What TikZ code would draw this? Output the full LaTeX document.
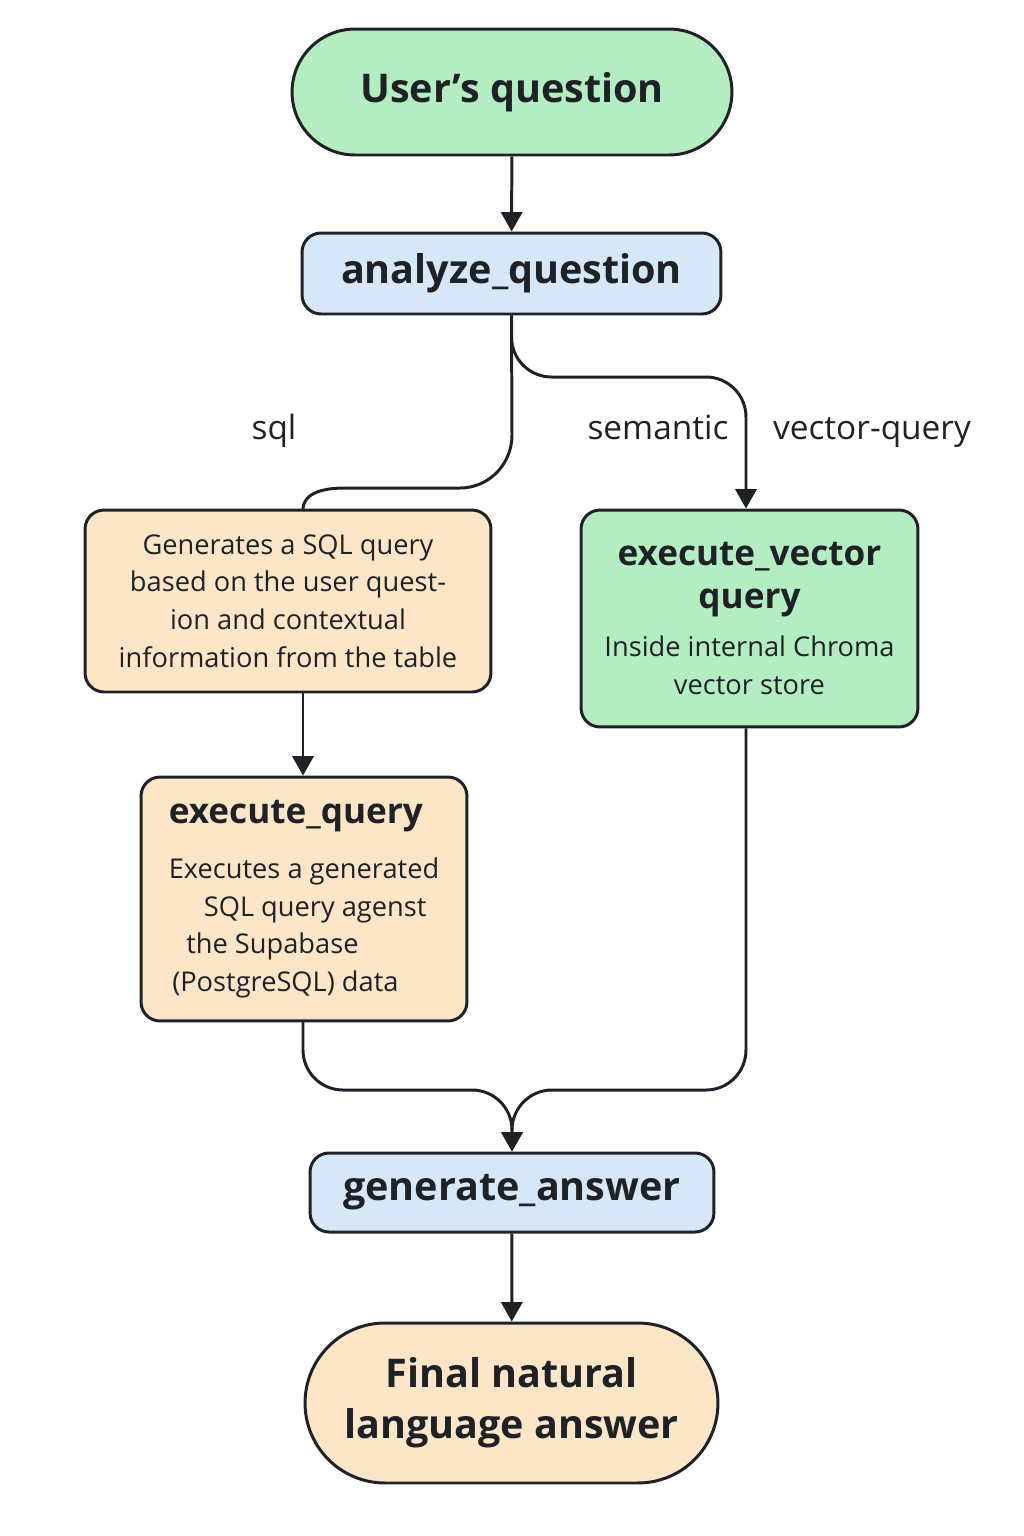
\documentclass[tikz,border=0pt]{standalone}
\usepackage{fontspec}
\setmainfont{Open Sans}
\usetikzlibrary{shapes.misc,arrows.meta,positioning}

\definecolor{mint}{HTML}{B5EDC3}
\definecolor{skyblue}{HTML}{D6E8F8}
\definecolor{peach}{HTML}{FDE6C8}
\definecolor{ink}{HTML}{1E2226}

\newcommand{\boxtitle}[1]{{\fontsize{20}{26}\selectfont\bfseries #1}}

\tikzset{
  box/.style={shape=rectangle, draw=ink, line width=1.7pt, rounded corners=0.38cm, inner sep=0pt},
  pill/.style={shape=rounded rectangle, draw=ink, line width=1.7pt, inner sep=0pt},
  flow/.style={draw=ink, line width=1.7pt, rounded corners=0.8cm},
  tip/.style={-{Triangle[width=12pt,length=11pt]}},
  bigtxt/.style={font=\fontsize{22.5}{29}\selectfont\bfseries, text=ink, align=center},
  smalltxt/.style={font=\fontsize{15.5}{21.4}\selectfont, text=ink},
  lbl/.style={font=\fontsize{19}{22}\selectfont, text=ink, anchor=base}
}

\begin{document}
\begin{tikzpicture}[x=0.02cm,y=-0.02cm]
\useasboundingbox (0,0) rectangle (1024,1536);

%start and analysis
\node [pill, bigtxt, fill=mint, minimum width=8.8cm, minimum height=2.52cm] at (512,92) (user) {User’s question};
\node [box, bigtxt, fill=skyblue, minimum width=8.38cm, minimum height=1.62cm] at (511.5,273.5) (an) {analyze\_question};

%sql branch
\node [box, smalltxt, align=center, fill=peach, minimum width=8.12cm, minimum height=3.64cm] at (288,601) (sq) {Generates a SQL query\\based on the user quest-\\ion and contextual\\information from the table};
\node [box, smalltxt, align=left, fill=peach, minimum width=6.52cm, minimum height=4.88cm] at (304,899) (eq) {\boxtitle{execute\_query}\\[10pt]Executes a generated\\\hspace*{20pt}SQL query agenst\\\hspace*{10pt}the Supabase\\\hspace*{2pt}(PostgreSQL) data};

%vector branch
\node [box, smalltxt, align=center, fill=mint, minimum width=6.74cm, minimum height=4.34cm] at (749.5,618.5) (vec) {\boxtitle{execute\_vector}\\[3pt]\boxtitle{query}\\[6pt]Inside internal Chroma\\vector store};

%answer
\node [box, bigtxt, fill=skyblue, minimum width=8.08cm, minimum height=1.58cm] at (512,1192.5) (gen) {generate\_answer};
\node [pill, bigtxt, fill=peach, minimum width=8.26cm, minimum height=3.2cm] at (511.5,1403) (final) {Final natural\\language answer};

%branch labels
\node [lbl] at (274,439) (sqllbl) {sql};
\node [lbl] at (658,439) (semlbl) {semantic};
\node [lbl] at (872,439) (veclbl) {vector-query};

\coordinate (sqltop) at (303,510);
\coordinate (eqbot) at (303,1021);
\coordinate (merge) at (512,1090);

%straight arrows
\draw [flow,tip] (user) -- (an);
\draw [flow,tip] (sq.south -| eqbot) -- (eq.north -| eqbot);
\draw [flow,tip] (gen) -- (final);

%branches out of analyze_question
\draw [flow,sharp corners] (an.south) -- (512,435) to[out=-90,in=0] (460,488) -- (345,488) to[out=180,in=90] (sqltop);
\draw [flow,tip] (an.south) |- (746,377) -- (vec.north -| 746,0);

%joining into generate_answer
\draw [flow,tip] (eqbot) |- (merge) -- (gen.north);
\draw [flow,tip] (vec.south -| 746,0) |- (merge) -- (gen.north);

\end{tikzpicture}
\end{document}
